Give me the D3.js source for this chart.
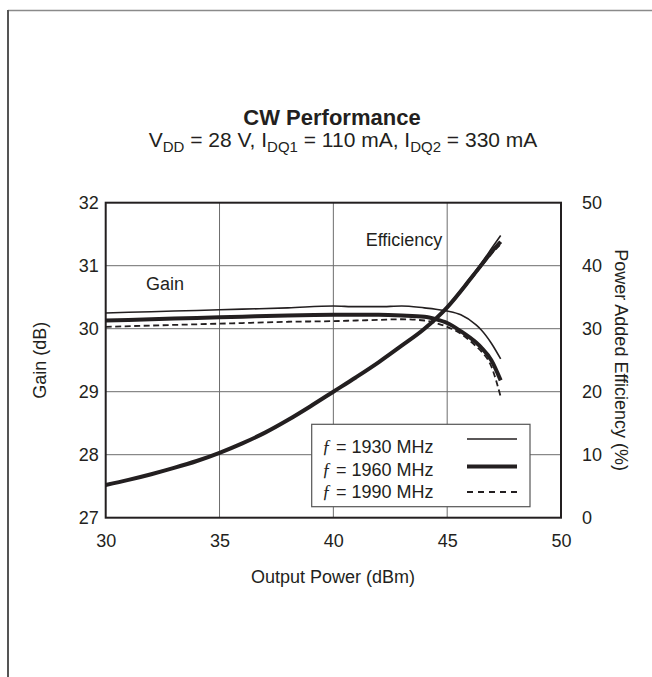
<!DOCTYPE html>
<html><head><meta charset="utf-8">
<script src="https://cdn.jsdelivr.net/npm/d3@7"></script>
<style>body{margin:0;background:#fff}svg{display:block}text{font-family:"Liberation Sans",Arial,sans-serif;fill:#231f20}</style>
</head><body><svg id="c" width="652" height="677"></svg>
<script>
// ---- data ----
const seriesNames = ["1930 MHz", "1960 MHz", "1990 MHz"];
const xTicks = [30, 35, 40, 45, 50];
const gainTicks = [27, 28, 29, 30, 31, 32];
const effTicks = [0, 10, 20, 30, 40, 50];

const gainPout = [30, 32, 34, 36, 38, 40, 41, 42, 43, 44, 44.5, 45, 45.6, 46.27, 46.5, 46.94, 47.35];
const gain1930 = [30.25, 30.27, 30.29, 30.31, 30.33, 30.36, 30.35, 30.35, 30.36, 30.33, 30.31, 30.28, 30.22, 30.06, 29.98, 29.77, 29.52];
const gain1960 = [30.13, 30.15, 30.17, 30.19, 30.21, 30.22, 30.22, 30.22, 30.21, 30.19, 30.15, 30.09, 29.96, 29.78, 29.7, 29.5, 29.18];
const gain1990 = [30.03, 30.05, 30.07, 30.09, 30.11, 30.12, 30.13, 30.14, 30.15, 30.13, 30.09, 30.03, 29.92, 29.72, 29.64, 29.4, 28.92];

const effPout = [30, 31, 32, 33, 34, 35, 36, 37, 38, 39, 40, 41, 42, 43, 44, 45, 46, 46.5, 47, 47.35];
const eff1930 = [5.2, 6.0, 6.9, 7.9, 9.0, 10.3, 11.8, 13.5, 15.5, 17.7, 20.0, 22.3, 24.7, 27.3, 30.0, 33.5, 38.0, 40.4, 43.0, 44.8];
const eff1960 = [5.2, 6.0, 6.9, 7.9, 9.0, 10.3, 11.8, 13.5, 15.5, 17.7, 20.0, 22.3, 24.7, 27.3, 30.0, 33.4, 37.8, 40.1, 42.4, 43.8];
const eff1990 = [5.2, 6.0, 6.9, 7.9, 9.0, 10.3, 11.8, 13.5, 15.5, 17.7, 20.0, 22.3, 24.7, 27.3, 30.0, 33.3, 37.6, 39.9, 42.1, 43.4];

// ---- layout ----
const svg = d3.select("#c");
const L = 105.7, R = 561, T = 202.7, B = 517.7;
const x = d3.scaleLinear().domain([30, 50]).range([L, R]);
const yG = d3.scaleLinear().domain([27, 32]).range([B, T]);
const yE = d3.scaleLinear().domain([0, 50]).range([B, T]);

// page frame
svg.append("line").attr("x1", 8).attr("x2", 652).attr("y1", 10.5).attr("y2", 10.5).attr("stroke", "#8a8a8a").attr("stroke-width", 1.5);
svg.append("line").attr("x1", 8).attr("x2", 8).attr("y1", 10).attr("y2", 677).attr("stroke", "#555").attr("stroke-width", 2);

// titles
svg.append("text").attr("x", 332).attr("y", 125).attr("text-anchor", "middle")
  .style("font-size", "22px").style("font-weight", "bold").text("CW Performance");
const st = svg.append("text").attr("x", 343).attr("y", 147).attr("text-anchor", "middle").style("font-size", "21px");
const parts = [["V", 0], ["DD", 1], [" = 28 V, I", 0], ["DQ1", 1], [" = 110 mA, I", 0], ["DQ2", 1], [" = 330 mA", 0]];
parts.forEach(([t, s], i) => {
  const ts = st.append("tspan").text(t);
  if (s) ts.attr("dy", 5).style("font-size", "15px");
  else if (i > 0 && parts[i - 1][1]) ts.attr("dy", -5);
});

// grid
const g = svg.append("g");
g.selectAll(".gx").data(xTicks.slice(1, -1)).enter().append("line")
  .attr("x1", d => x(d)).attr("x2", d => x(d)).attr("y1", T).attr("y2", B)
  .attr("stroke", "#6d6d6d").attr("stroke-width", 1);
g.selectAll(".gy").data(gainTicks.slice(1, -1)).enter().append("line")
  .attr("x1", L).attr("x2", R).attr("y1", d => yG(d)).attr("y2", d => yG(d))
  .attr("stroke", "#6d6d6d").attr("stroke-width", 1);

// axes (labels via d3 axes, no tick marks)
const ax = svg.append("g").attr("transform", `translate(0,${B})`)
  .call(d3.axisBottom(x).tickValues(xTicks).tickFormat(d3.format("d")).tickSize(0).tickPadding(17));
const ayl = svg.append("g").attr("transform", `translate(${L},0)`)
  .call(d3.axisLeft(yG).tickValues(gainTicks).tickFormat(d3.format("d")).tickSize(0).tickPadding(7));
const ayr = svg.append("g").attr("transform", `translate(${R},0)`)
  .call(d3.axisRight(yE).tickValues(effTicks).tickFormat(d3.format("d")).tickSize(0).tickPadding(21));
[ax, ayl, ayr].forEach(a => {
  a.select(".domain").remove();
  a.selectAll("text").style("font-size", "18px").style("font-family", '"Liberation Sans",Arial,sans-serif').attr("fill", "#231f20");
});

// curves
const lineG = d3.line().x((d, i) => x(gainPout[i])).y(d => yG(d)).curve(d3.curveMonotoneX);
const lineE = d3.line().x((d, i) => x(effPout[i])).y(d => yE(d)).curve(d3.curveMonotoneX);
const styles = [
  { w: 1.6, dash: null },
  { w: 4, dash: null },
  { w: 1.8, dash: "6,3.5" }
];
svg.append("clipPath").attr("id", "pc").append("rect").attr("x", L).attr("y", T).attr("width", R - L).attr("height", B - T);
const cg = svg.append("g").attr("clip-path", "url(#pc)");
[[gain1990, eff1990, 2], [gain1930, eff1930, 0], [gain1960, eff1960, 1]].forEach(([gd, ed, k]) => {
  const s = styles[k];
  [[gd, lineG], [ed, lineE]].forEach(([d, ln]) => {
    cg.append("path").attr("d", ln(d)).attr("fill", "none").attr("stroke", "#231f20")
      .attr("stroke-width", s.w).attr("stroke-dasharray", s.dash);
  });
});

// plot frame
svg.append("rect").attr("x", L).attr("y", T).attr("width", R - L).attr("height", B - T)
  .attr("fill", "none").attr("stroke", "#231f20").attr("stroke-width", 2);

// annotations
svg.append("text").attr("x", 165).attr("y", 290).attr("text-anchor", "middle").style("font-size", "18px").text("Gain");
svg.append("text").attr("x", 404).attr("y", 246).attr("text-anchor", "middle").style("font-size", "18px").text("Efficiency");

// axis titles
svg.append("text").attr("x", 333).attr("y", 583).attr("text-anchor", "middle").style("font-size", "18px").text("Output Power (dBm)");
svg.append("text").attr("transform", `translate(46,${(T + B) / 2}) rotate(-90)`).attr("text-anchor", "middle").style("font-size", "18px").text("Gain (dB)");
svg.append("text").attr("transform", `translate(615,${(T + B) / 2}) rotate(90)`).attr("text-anchor", "middle").style("font-size", "18px").text("Power Added Efficiency (%)");

// legend
const lg = svg.append("g");
lg.append("rect").attr("x", 311.7).attr("y", 424.3).attr("width", 218.3).attr("height", 82.4)
  .attr("fill", "#fff").attr("stroke", "#555").attr("stroke-width", 1.2);
const legLineY = [439, 466.5, 492];
seriesNames.forEach((n, i) => {
  const yy = 453 + i * 22.6;
  const t = lg.append("text").attr("x", 322).attr("y", yy).style("font-size", "18px");
  t.append("tspan").text("ƒ").style("font-family", '"Liberation Serif","Times New Roman",serif').style("font-style", "italic");
  t.append("tspan").text(" = " + n);
  const s = styles[i];
  lg.append("line").attr("x1", 467).attr("x2", 517).attr("y1", legLineY[i]).attr("y2", legLineY[i])
    .attr("stroke", "#231f20").attr("stroke-width", s.w).attr("stroke-dasharray", s.dash ? "6,5" : null);
});
</script></body></html>
